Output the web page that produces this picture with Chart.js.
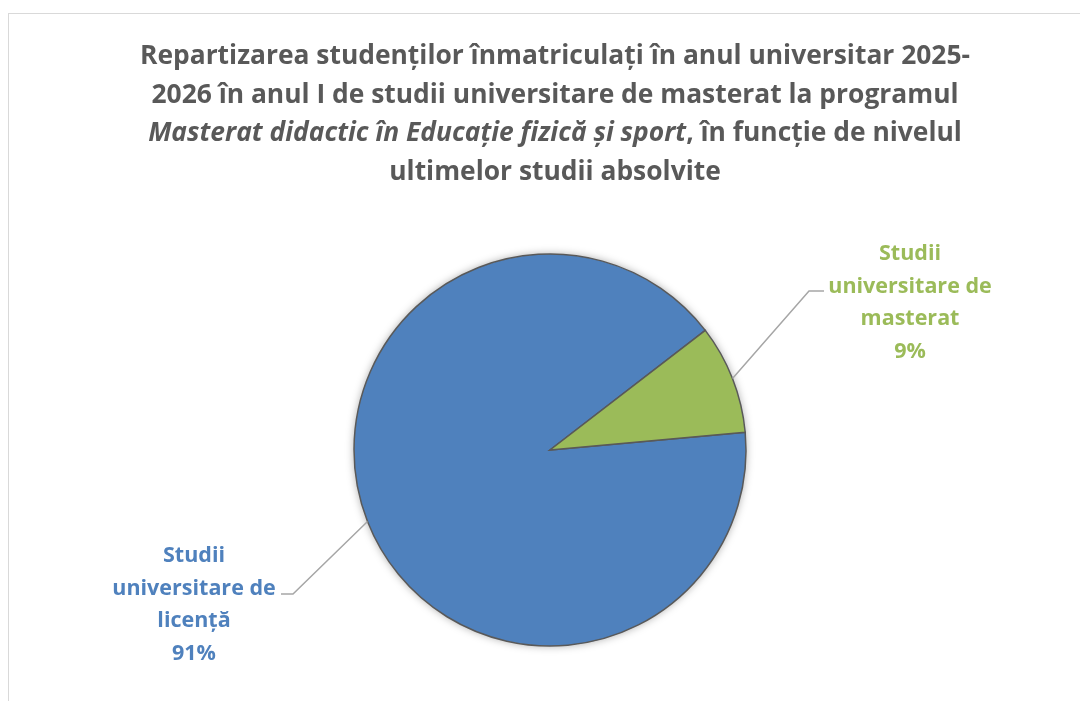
<!DOCTYPE html>
<html lang="ro">
<head>
<meta charset="utf-8">
<title>Repartizarea studenților</title>
<script src="https://cdn.jsdelivr.net/npm/chart.js@4.4.1/dist/chart.umd.min.js"></script>
<style>
  html, body {
    margin: 0;
    padding: 0;
    background: #ffffff;
    overflow: hidden;
  }
  #wrap {
    position: relative;
    width: 1080px;
    height: 701px;
  }
  #frame {
    position: absolute;
    left: 8px;
    top: 13px;
    width: 1100px;
    height: 720px;
    border-top: 1px solid #d9d9d9;
    border-left: 1px solid #d9d9d9;
  }
  #title {
    position: absolute;
    left: 55px;
    width: 1000px;
    top: 35px;
    text-align: center;
    font-family: "Open Sans", sans-serif;
    font-weight: bold;
    font-size: 26.4px;
    line-height: 38.5px;
    color: #595959;
  }
  #myChart {
    position: absolute;
    left: 0;
    top: 0;
  }
</style>
</head>
<body>
<div id="wrap">
  <div id="frame"></div>
  <canvas id="myChart" width="1080" height="701"></canvas>
  <div id="title">
    Repartizarea studenților înmatriculați în anul universitar 2025-<br>
    2026 în anul I de studii universitare de masterat la programul<br>
    <i>Masterat didactic în Educație fizică și sport</i>, în funcție de nivelul<br>
    ultimelor studii absolvite
  </div>
</div>
<script>
// data
const categories = ["Studii universitare de licență", "Studii universitare de masterat"];
const labelLines = [
  ["Studii", "universitare de", "licență"],
  ["Studii", "universitare de", "masterat"],
];
const shares = [91, 9];
const colors = ["#4f81bd", "#9bbb59"];

// where the data labels sit (text centre x, first baseline y, leader elbow)
const labelBoxes = [
  { x: 194, y: 562, elbowX: 293, elbowY: 594, endX: 281 },
  { x: 910, y: 260, elbowX: 809, elbowY: 291, endX: 824 },
];

const FONT = '"Open Sans", sans-serif';

const pieShadow = {
  id: "pieShadow",
  beforeDatasetsDraw(chart) {
    const arc = chart.getDatasetMeta(0).data[0];
    if (!arc) return;
    const ctx = chart.ctx;
    ctx.save();
    ctx.shadowColor = "rgba(0,0,0,0.35)";
    ctx.shadowBlur = 8;
    ctx.fillStyle = "#ffffff";
    ctx.beginPath();
    ctx.arc(arc.x, arc.y, arc.outerRadius, 0, Math.PI * 2);
    ctx.fill();
    ctx.restore();
  },
};

const leaderLabels = {
  id: "leaderLabels",
  afterDatasetsDraw(chart) {
    const ctx = chart.ctx;
    const meta = chart.getDatasetMeta(0);
    const total = shares.reduce((a, b) => a + b, 0);

    meta.data.forEach((arc, i) => {
      const box = labelBoxes[i];
      const mid = (arc.startAngle + arc.endAngle) / 2;
      const sx = arc.x + Math.cos(mid) * arc.outerRadius;
      const sy = arc.y + Math.sin(mid) * arc.outerRadius;

      ctx.save();
      ctx.strokeStyle = "#a6a6a6";
      ctx.lineWidth = 1.5;
      ctx.beginPath();
      ctx.moveTo(sx, sy);
      ctx.lineTo(box.elbowX, box.elbowY);
      ctx.lineTo(box.endX, box.elbowY);
      ctx.stroke();

      const pct = Math.round((shares[i] / total) * 100) + "%";
      const lines = labelLines[i].concat([pct]);
      ctx.fillStyle = colors[i];
      ctx.font = "bold 21.5px " + FONT;
      ctx.textAlign = "center";
      ctx.textBaseline = "alphabetic";
      lines.forEach((t, k) => {
        ctx.fillText(t, box.x, box.y + k * 32.7);
      });
      ctx.restore();
    });
  },
};

new Chart(document.getElementById("myChart"), {
  type: "pie",
  data: {
    labels: categories,
    datasets: [
      {
        data: shares,
        backgroundColor: colors,
        borderColor: "#595959",
        borderWidth: 1.5,
        borderJoinStyle: "miter",
      },
    ],
  },
  options: {
    responsive: false,
    animation: false,
    rotation: 84.8,
    radius: 196,
    layout: {
      padding: { left: 20, right: 0, top: 199, bottom: 0 },
    },
    plugins: {
      legend: { display: false },
      title: { display: false },
      tooltip: { enabled: false },
    },
  },
  plugins: [pieShadow, leaderLabels],
});
</script>
</body>
</html>
